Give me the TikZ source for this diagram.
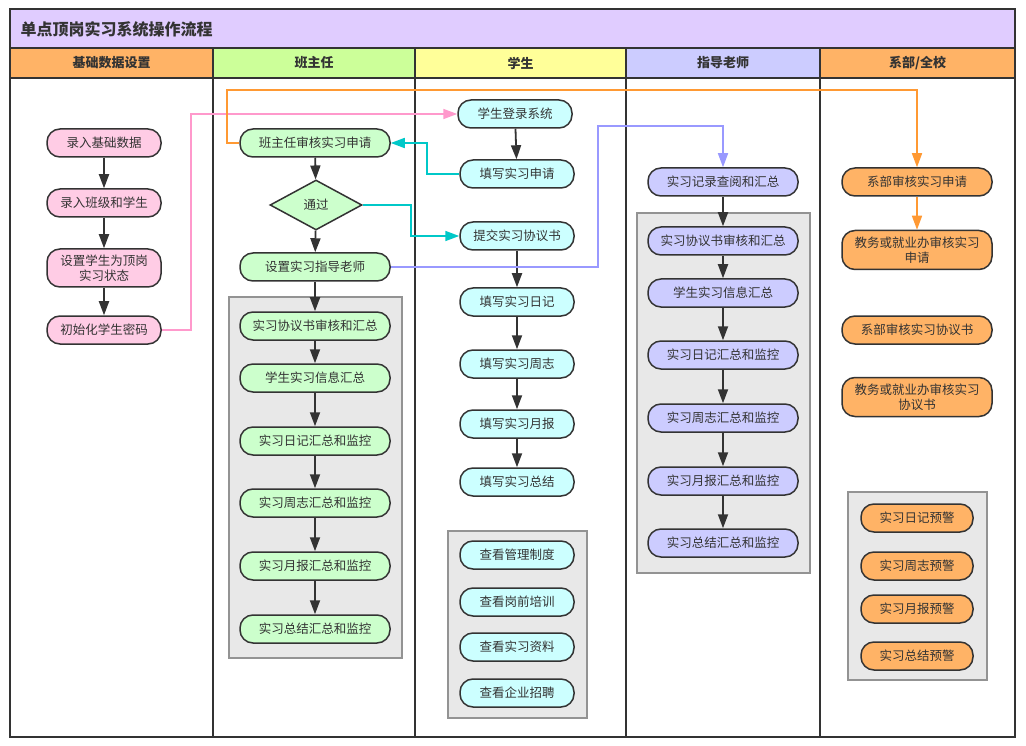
\documentclass[tikz,border=0pt]{standalone}
\usepackage{fontspec}
\setmainfont{Noto Sans CJK SC}
\usepackage{tikz}
\usetikzlibrary{arrows.meta, shapes.geometric}
\definecolor{linec}{HTML}{333333}
\definecolor{titlec}{HTML}{E0CCFF}
\definecolor{orangec}{HTML}{FFB366}
\definecolor{greenh}{HTML}{CCFF99}
\definecolor{yellowh}{HTML}{FFFF99}
\definecolor{lavc}{HTML}{CCCCFF}
\definecolor{pinkc}{HTML}{FFCCE5}
\definecolor{greenc}{HTML}{CCFFCC}
\definecolor{cyanc}{HTML}{CCFFFF}
\definecolor{groupc}{HTML}{E8E8E8}
\definecolor{pinkl}{HTML}{FF99CC}
\definecolor{orangel}{HTML}{FF9933}
\definecolor{cyanl}{HTML}{00C8C8}
\definecolor{lavl}{HTML}{9999FF}
\tikzset{
    lane/.style={draw=linec, line width=1.6pt},
    lanehead/.style={draw=linec, line width=1.6pt, minimum height=30pt, inner sep=0pt,
        font=\fontsize{13}{15}\selectfont\bfseries, text=linec},
    act/.style={draw=linec, line width=1.5pt, rounded corners=13pt, minimum width=114pt,
        minimum height=28pt, inner sep=2pt, align=center, text=linec,
        font=\fontsize{12.5}{15}\selectfont},
    wide/.style={minimum width=150pt},
    decide/.style={draw=linec, line width=1.5pt, diamond, aspect=1.84, minimum width=92pt,
        minimum height=50pt, inner sep=0pt, fill=greenc, text=linec,
        font=\fontsize{12.5}{15}\selectfont},
    group/.style={draw=gray!85, fill=groupc, line width=1.5pt},
    flow/.style={-{Triangle[length=14pt,width=10pt]}, draw=linec, line width=1.8pt},
    pinkflow/.style={-{Triangle[length=14pt,width=10pt]}, draw=pinkl, line width=1.6pt},
    orangeflow/.style={-{Triangle[length=14pt,width=10pt]}, draw=orangel, line width=1.6pt},
    cyanflow/.style={-{Triangle[length=14pt,width=10pt]}, draw=cyanl, line width=1.6pt},
    lavflow/.style={-{Triangle[length=14pt,width=10pt]}, draw=lavl, line width=1.6pt} }

\begin{document}
\begin{tikzpicture}[x=1pt, y=-1pt]
    \useasboundingbox (0,0) rectangle (1026,746);
    % ---- frame and lanes
    \draw[lane, fill=white] (10,9) rectangle (1015,737);
    \draw[lane, fill=titlec] (10,9) rectangle (1015,48);
    \node[anchor=west, font=\fontsize{16}{18}\selectfont\bfseries, text=linec] (title) at (17,29) {单点顶岗实习系统操作流程};
    \node[lanehead, fill=orangec, minimum width=203pt] (hbase) at (111.5,63) {基础数据设置};
    \node[lanehead, fill=greenh, minimum width=202pt] (hclass) at (314,63) {班主任};
    \node[lanehead, fill=yellowh, minimum width=211pt] (hstudent) at (520.5,63) {学生};
    \node[lanehead, fill=lavc, minimum width=194pt] (hteacher) at (723,63) {指导老师};
    \node[lanehead, fill=orangec, minimum width=195pt] (hschool) at (917.5,63) {系部/全校};
    \draw[lane] (213,78) -- (213,737);
    \draw[lane] (415,78) -- (415,737);
    \draw[lane] (626,78) -- (626,737);
    \draw[lane] (820,78) -- (820,737);
    % ---- groups
    \draw[group] (229,297) rectangle (402,658);
    \draw[group] (448,531) rectangle (587,718);
    \draw[group] (637,213) rectangle (810,573);
    \draw[group] (848,492) rectangle (987,680);
    % ---- base data
    \node[act, fill=pinkc] (inputbase) at (104,143) {录入基础数据};
    \node[act, fill=pinkc] (inputclass) at (104,203) {录入班级和学生};
    \node[act, fill=pinkc, minimum height=38pt] (setstate) at (104,268) {设置学生为顶岗\\实习状态};
    \node[act, fill=pinkc] (initpwd) at (104,330) {初始化学生密码};
    % ---- class teacher
    \node[act, wide, fill=greenc] (audit) at (315,143) {班主任审核实习申请};
    \node[decide] (pass) at (316,205) {通过};
    \node[act, wide, fill=greenc] (setteacher) at (315,267) {设置实习指导老师};
    \node[act, wide, fill=greenc] (cagree) at (315,326) {实习协议书审核和汇总};
    \node[act, wide, fill=greenc] (cinfo) at (315,378) {学生实习信息汇总};
    \node[act, wide, fill=greenc] (cdiary) at (315,441) {实习日记汇总和监控};
    \node[act, wide, fill=greenc] (cweekly) at (315,503) {实习周志汇总和监控};
    \node[act, wide, fill=greenc] (cmonthly) at (315,566) {实习月报汇总和监控};
    \node[act, wide, fill=greenc] (csummary) at (315,629) {实习总结汇总和监控};
    % ---- student
    \node[act, fill=cyanc] (login) at (515,114) {学生登录系统};
    \node[act, fill=cyanc] (fillapply) at (517,174) {填写实习申请};
    \node[act, fill=cyanc] (submit) at (517,236) {提交实习协议书};
    \node[act, fill=cyanc] (sdiary) at (517,302) {填写实习日记};
    \node[act, fill=cyanc] (sweekly) at (517,364) {填写实习周志};
    \node[act, fill=cyanc] (smonthly) at (517,424) {填写实习月报};
    \node[act, fill=cyanc] (ssummary) at (517,482) {填写实习总结};
    \node[act, fill=cyanc] (rules) at (517,555) {查看管理制度};
    \node[act, fill=cyanc] (training) at (517,602) {查看岗前培训};
    \node[act, fill=cyanc] (material) at (517,647) {查看实习资料};
    \node[act, fill=cyanc] (recruit) at (517,693) {查看企业招聘};
    % ---- instructor
    \node[act, wide, fill=lavc] (records) at (723,182) {实习记录查阅和汇总};
    \node[act, wide, fill=lavc] (tagree) at (723,241) {实习协议书审核和汇总};
    \node[act, wide, fill=lavc] (tinfo) at (723,293) {学生实习信息汇总};
    \node[act, wide, fill=lavc] (tdiary) at (723,355) {实习日记汇总和监控};
    \node[act, wide, fill=lavc] (tweekly) at (723,418) {实习周志汇总和监控};
    \node[act, wide, fill=lavc] (tmonthly) at (723,481) {实习月报汇总和监控};
    \node[act, wide, fill=lavc] (tsummary) at (723,543) {实习总结汇总和监控};
    % ---- department / school
    \node[act, wide, fill=orangec] (deptapply) at (917,182) {系部审核实习申请};
    \node[act, wide, fill=orangec, minimum height=39pt] (officeapply) at (917,250) {教务或就业办审核实习\\申请};
    \node[act, wide, fill=orangec] (deptagree) at (917,330) {系部审核实习协议书};
    \node[act, wide, fill=orangec, minimum height=39pt] (officeagree) at (917,397) {教务或就业办审核实习\\协议书};
    \node[act, minimum width=112pt, fill=orangec] (wdiary) at (917,518) {实习日记预警};
    \node[act, minimum width=112pt, fill=orangec] (wweekly) at (917,566) {实习周志预警};
    \node[act, minimum width=112pt, fill=orangec] (wmonthly) at (917,609) {实习月报预警};
    \node[act, minimum width=112pt, fill=orangec] (wsummary) at (917,656) {实习总结预警};
    % ---- bends
    \coordinate (pinkturn) at (191,114);
    \coordinate (orangeturn) at (227,90);
    \coordinate (cyanturn) at (427,143);
    \coordinate (passturn) at (411,236);
    \coordinate (lavturn) at (598,126);
    % ----
    \draw[flow] (inputbase) -- (inputclass);
    \draw[flow] (inputclass) -- (setstate);
    \draw[flow] (setstate) -- (initpwd);
    \draw[flow] (audit) -- (pass);
    \draw[flow] (pass) -- (setteacher);
    \draw[flow] (setteacher) -- (cagree);
    \draw[flow] (cagree) -- (cinfo);
    \draw[flow] (cinfo) -- (cdiary);
    \draw[flow] (cdiary) -- (cweekly);
    \draw[flow] (cweekly) -- (cmonthly);
    \draw[flow] (cmonthly) -- (csummary);
    \draw[flow] (login) -- (fillapply);
    \draw[flow] (submit) -- (sdiary);
    \draw[flow] (sdiary) -- (sweekly);
    \draw[flow] (sweekly) -- (smonthly);
    \draw[flow] (smonthly) -- (ssummary);
    \draw[flow] (records) -- (tagree);
    \draw[flow] (tagree) -- (tinfo);
    \draw[flow] (tinfo) -- (tdiary);
    \draw[flow] (tdiary) -- (tweekly);
    \draw[flow] (tweekly) -- (tmonthly);
    \draw[flow] (tmonthly) -- (tsummary);
    \draw[orangeflow] (deptapply) -- (officeapply);
    % ----
    \draw[pinkflow] (initpwd.east) -| (pinkturn) -- (login.west);
    \draw[orangeflow] (audit.west) -| (orangeturn) -| (deptapply.north);
    \draw[cyanflow] (fillapply.west) -| (cyanturn) -- (audit.east);
    \draw[cyanflow] (pass.east) -| (passturn) -- (submit.west);
    \draw[lavflow] (setteacher.east) -| (lavturn) -| (records.north);
\end{tikzpicture}
\end{document}
